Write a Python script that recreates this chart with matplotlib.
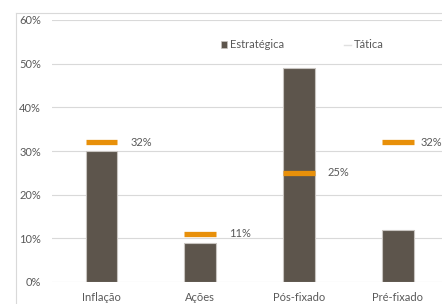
import numpy as np
import matplotlib
matplotlib.use("Agg")
import matplotlib.pyplot as plt
from matplotlib.lines import Line2D
from matplotlib.patches import Patch

plt.rcParams['font.family'] = ['Lato', 'DejaVu Sans']

# data
categories = ['Inflação', 'Ações', 'Pós-fixado', 'Pré-fixado']
estrategica = [30, 9, 49, 12]
tatica = [32, 11, 25, 32]
tatica_labels = ['32%', '11%', '25%', '32%']
yticks = [0, 10, 20, 30, 40, 50, 60]

W, H = 442, 304
fig = plt.figure(figsize=(W / 100, H / 100), dpi=100)

# outer chart frame (only left and top edges visible, like the crop in the reference)
fx, fy = 15.5 / W, 1 - 12.5 / H
fig.add_artist(Line2D([fx, fx], [0, fy], transform=fig.transFigure,
                      color='#d9d9d9', linewidth=0.8))
fig.add_artist(Line2D([fx, 1], [fy, fy], transform=fig.transFigure,
                      color='#d9d9d9', linewidth=0.8))

ax = fig.add_axes([52 / W, (H - 282) / H, (W - 52) / W, (282 - 20) / H])
x = np.arange(len(categories))
bw = 0.32
xmax = 3.446

ax.bar(x, estrategica, width=bw, color='#5d554c', edgecolor='#c8c4c0',
       linewidth=0.8, zorder=2)
ax.hlines(tatica, x - bw / 2, x + bw / 2, color='#e8900a', linewidth=3.8, zorder=3)
for xi, v, lab in zip(x, tatica, tatica_labels):
    tx = min(xi + bw / 2 + 0.13, xmax - 0.22)
    ax.text(tx, v, lab, va='center', ha='left', fontsize=8, color='#595959')

ax.set_ylim(0, 60)
ax.set_xlim(-0.5, xmax)
ax.set_yticks(yticks)
ax.set_yticklabels([f'{t}%' for t in yticks])
ax.set_xticks(x)
ax.set_xticklabels(categories)
ax.tick_params(length=0, labelsize=8, colors='#595959')
ax.tick_params(axis='y', pad=8)
ax.tick_params(axis='x', pad=7)
for s in ax.spines.values():
    s.set_visible(False)
ax.grid(axis='y', color='#d9d9d9', linewidth=0.8, zorder=0)
ax.set_axisbelow(True)

handles = [Patch(facecolor='#5d554c', edgecolor='#c8c4c0', linewidth=0.5),
           Line2D([0], [0], color='#e0e0e0', linewidth=1)]
ax.legend(handles, ['Estratégica', 'Tática'], ncol=2, frameon=False,
          loc='center', bbox_to_anchor=((302 - 52) / (W - 52), (282 - 45) / 262),
          fontsize=8, labelcolor='#595959', handlelength=0.6, handleheight=0.6,
          handletextpad=0.25, columnspacing=5.4)

fig.savefig('out.png', dpi=100)
